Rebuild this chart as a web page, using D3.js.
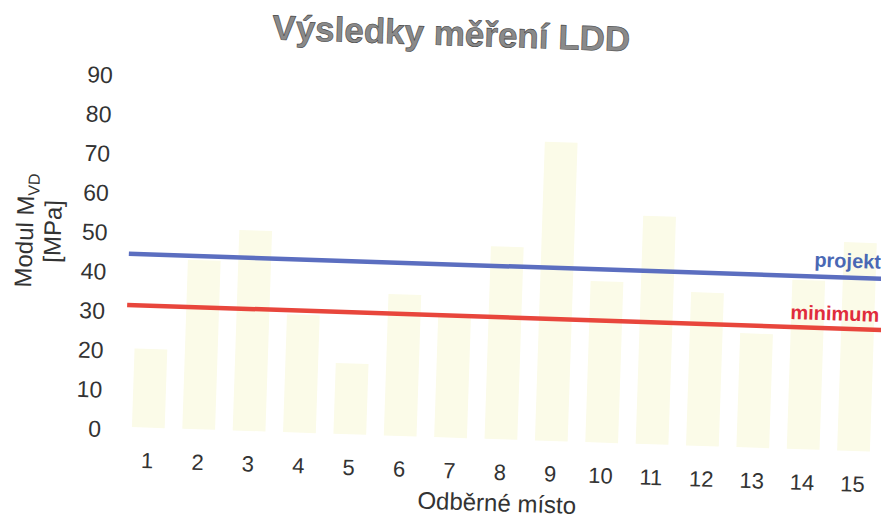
<!DOCTYPE html>
<html>
<head>
<meta charset="utf-8">
<script src="https://cdn.jsdelivr.net/npm/d3@7"></script>
<style>
  html, body { margin: 0; padding: 0; background: #fff; }
  svg { display: block; }
  text { font-family: "Liberation Sans", Arial, sans-serif; }
</style>
</head>
<body>
<svg id="chart" width="881" height="518"></svg>
<script>
// Sampling points and measured modulus values (MPa)
const places = ["1","2","3","4","5","6","7","8","9","10","11","12","13","14","15"];
const modulus = [20, 43, 51, 30, 18, 36, 31, 49, 76, 41, 58, 39, 29, 43, 53];
const yTicks = [0, 10, 20, 30, 40, 50, 60, 70, 80, 90];

// Reference limits
const projektValue = 44;
const minimumValue = 31;

const svg = d3.select("#chart");
const W = 881, H = 518;
svg.append("rect").attr("width", W).attr("height", H).attr("fill", "#fff");

// whole sheet sits with a slight clockwise tilt
const g = svg.append("g").attr("transform", "rotate(1.9, 100, 430)");

const x = d3.scaleBand().domain(places).range([123, 879])
  .paddingInner(0.35).paddingOuter(0.175);
const y = d3.scaleLinear().domain([0, 90]).range([426, 72]);

// title
g.append("text")
  .attr("x", 438).attr("y", 34)
  .attr("text-anchor", "middle")
  .attr("font-size", 35).attr("font-weight", "bold")
  .attr("fill", "#8a8a8a").attr("stroke", "#3c3c3c").attr("stroke-width", 0.55)
  .text("Výsledky měření LDD");

// bars
g.append("g").selectAll("rect").data(modulus).join("rect")
  .attr("x", (d, i) => x(places[i]))
  .attr("width", x.bandwidth())
  .attr("y", d => y(d))
  .attr("height", d => y(0) - y(d))
  .attr("fill", "#fbfbe8");

// y axis labels (no axis line)
const yAxis = d3.axisLeft(y).tickValues(yTicks).tickSize(0).tickPadding(0);
const ya = g.append("g").attr("transform", "translate(101,3)").call(yAxis);
ya.select(".domain").remove();
ya.selectAll("text")
  .attr("font-size", 23).attr("fill", "#333")
  .attr("font-family", "Liberation Sans, Arial, sans-serif");

// x axis labels
const xAxis = d3.axisBottom(x).tickSize(0).tickPadding(0);
const xa = g.append("g").attr("transform", "translate(0,451)").call(xAxis);
xa.select(".domain").remove();
xa.selectAll("text")
  .attr("font-size", 22).attr("fill", "#333")
  .attr("font-family", "Liberation Sans, Arial, sans-serif");

// limit lines
const x0 = x.range()[0], x1 = x.range()[1] + 6;
g.append("line")
  .attr("x1", x0).attr("x2", x1)
  .attr("y1", y(projektValue)).attr("y2", y(projektValue))
  .attr("stroke", "#5b6ec0").attr("stroke-width", 4.5);
g.append("line")
  .attr("x1", x0).attr("x2", x1)
  .attr("y1", y(minimumValue)).attr("y2", y(minimumValue))
  .attr("stroke", "#e8463c").attr("stroke-width", 4.5);

g.append("text")
  .attr("x", 875).attr("y", y(projektValue) - 10)
  .attr("text-anchor", "end")
  .attr("font-size", 20).attr("font-weight", "bold")
  .attr("fill", "#4a68b4")
  .text("projekt");
g.append("text")
  .attr("x", 875).attr("y", y(minimumValue) - 8)
  .attr("text-anchor", "end")
  .attr("font-size", 20).attr("font-weight", "bold")
  .attr("fill", "#e02c3c")
  .text("minimum");

// y axis title
const yt = g.append("g").attr("transform", "translate(18,233) rotate(-90)");
const t1 = yt.append("text").attr("text-anchor", "middle").attr("dy", "0.35em")
  .attr("font-size", 24).attr("fill", "#333");
t1.append("tspan").text("Modul M");
t1.append("tspan").attr("font-size", 16).attr("dy", 5).text("VD");
yt.append("text").attr("text-anchor", "middle")
  .attr("y", 28).attr("dy", "0.35em")
  .attr("font-size", 24).attr("fill", "#333")
  .text("[MPa]");

// x axis title
g.append("text")
  .attr("x", 499).attr("y", 498)
  .attr("text-anchor", "middle")
  .attr("font-size", 24).attr("fill", "#333")
  .text("Odběrné místo");
</script>
</body>
</html>
